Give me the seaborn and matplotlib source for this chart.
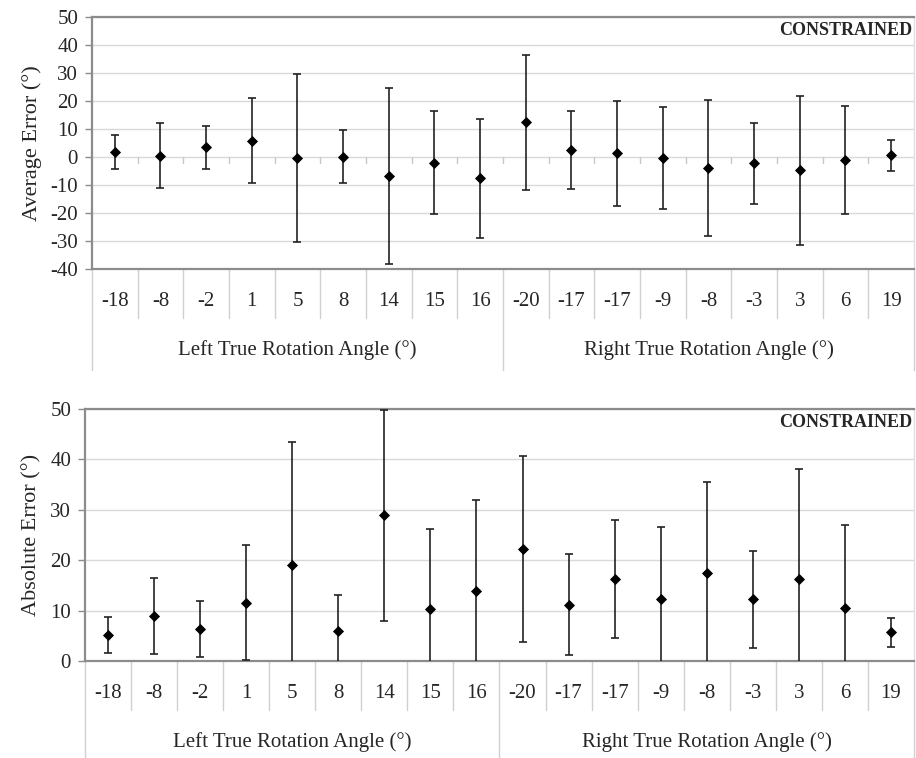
import matplotlib
matplotlib.use('Agg')
import matplotlib.pyplot as plt
import matplotlib.transforms as mtransforms
import seaborn as sns
import pandas as pd
import numpy as np

# Data
angles = ['-18', '-8', '-2', '1', '5', '8', '14', '15', '16',
          '-20', '-17', '-17', '-9', '-8', '-3', '3', '6', '19']
groups = ['Left True Rotation Angle (°)', 'Right True Rotation Angle (°)']
group_sizes = [9, 9]

avg_mean = [1.8, 0.5, 3.4, 5.8, -0.3, 0.1, -6.9, -2.0, -7.6,
            12.4, 2.5, 1.3, -0.3, -4.0, -2.3, -4.8, -1.2, 0.6]
avg_err = [6.1, 11.7, 7.8, 15.2, 30.0, 9.4, 31.4, 18.5, 21.2,
           24.2, 13.8, 18.7, 18.3, 24.2, 14.5, 26.6, 19.3, 5.5]

abs_mean = [5.2, 8.9, 6.3, 11.6, 19.0, 5.9, 28.9, 10.3, 13.9,
            22.2, 11.2, 16.3, 12.2, 17.5, 12.2, 16.3, 10.5, 5.7]
abs_err = [3.6, 7.6, 5.6, 11.5, 24.4, 7.1, 20.9, 15.9, 18.0,
           18.4, 10.1, 11.7, 14.4, 18.0, 9.6, 21.7, 16.5, 2.9]

sns.set_theme(style="white")
plt.rcParams['font.family'] = ['Liberation Serif', 'DejaVu Serif']
plt.rcParams['axes.unicode_minus'] = False

fig = plt.figure(figsize=(9.16, 7.58), dpi=100)
ax1 = fig.add_axes([0.1004, 0.6451, 0.8974, 0.3325])
ax2 = fig.add_axes([0.0928, 0.1280, 0.9050, 0.3325])

GRID = '#d9d9d9'
AXIS = '#8c8c8c'
FS = 15


def draw_panel(ax, mean, err, ylim, ylabel, zero_ticks):
    df = pd.DataFrame({'pos': np.arange(len(angles)), 'mean': mean, 'err': err})
    ax.errorbar(df['pos'], df['mean'], yerr=df['err'], fmt='none',
                ecolor='#222222', elinewidth=1.2, capsize=3.2, capthick=1.2, zorder=3)
    sns.scatterplot(data=df, x='pos', y='mean', marker='D', color='black',
                    s=32, edgecolor='black', linewidth=0, ax=ax, zorder=4)
    ax.set_xlim(-0.5, len(angles) - 0.5)
    ax.set_ylim(*ylim)
    ax.set_yticks(np.arange(ylim[0], ylim[1] + 1, 10))
    ax.yaxis.grid(True, color=GRID, linewidth=1.0)
    ax.set_axisbelow(True)
    ax.set_xticks([])
    ax.set_xlabel('')
    ax.set_ylabel(ylabel, fontsize=16, labelpad=6)
    ax.tick_params(axis='y', labelsize=FS, length=5, width=1, color=AXIS,
                   direction='out', left=True, pad=5)
    for s in ['left', 'bottom', 'top']:
        ax.spines[s].set_color(AXIS)
        ax.spines[s].set_linewidth(1.6)
    ax.spines['right'].set_color('#e0e0e0')
    ax.spines['right'].set_linewidth(1.0)

    trans = mtransforms.blended_transform_factory(ax.transData, ax.transAxes)
    # category separators below the axis
    for i in range(len(angles) + 1):
        b = i - 0.5
        long_line = i in (0, group_sizes[0], len(angles))
        y_end = -0.40 if long_line else -0.195
        ax.plot([b, b], [0, y_end], transform=trans, color='#d0d0d0',
                linewidth=1.0, clip_on=False)
    for i, lab in enumerate(angles):
        ax.text(i, -0.13, lab, transform=trans, ha='center', va='center', fontsize=FS)
    start = 0
    for g, n in zip(groups, group_sizes):
        ax.text(start + n / 2 - 0.5, -0.32, g, transform=trans,
                ha='center', va='center', fontsize=FS)
        start += n

    if zero_ticks:
        for i in range(1, len(angles)):
            ax.plot([i - 0.5, i - 0.5], [0, -2.2], color='#c8c8c8',
                    linewidth=1.0, zorder=2)

    ax.text(0.998, 0.945, 'CONSTRAINED', transform=ax.transAxes, ha='right',
            va='center', fontsize=13, fontweight='bold')


draw_panel(ax1, avg_mean, avg_err, (-40, 50), 'Average Error (°)', True)
draw_panel(ax2, abs_mean, abs_err, (0, 50), 'Absolute Error (°)', False)

fig.savefig('out.png', dpi=100)
